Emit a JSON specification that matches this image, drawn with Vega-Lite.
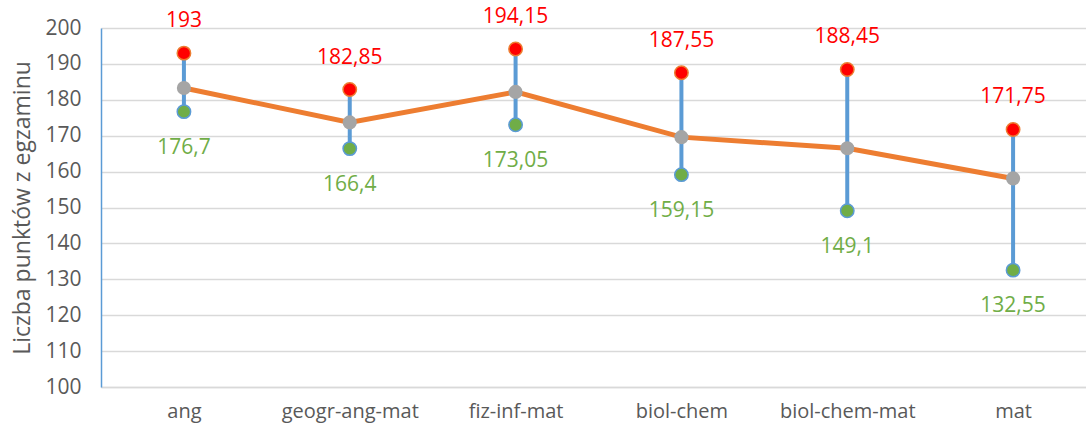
{
  "$schema": "https://vega.github.io/schema/vega-lite/v6.json",
  "autosize": "none",
  "width": 995,
  "height": 359,
  "padding": {"left": 101, "top": 28, "right": 0, "bottom": 45},
  "background": "white",
  "config": {
    "locale": {"number": {"decimal": ",", "thousands": " ", "grouping": [3], "currency": ["", " zł"]}},
    "view": {"stroke": null},
    "font": "Open Sans",
    "axis": {"labelFont": "Open Sans", "titleFont": "Open Sans"}
  },
  "data": {
    "values": [
      {"kierunek": "ang", "min": 176.7, "max": 193, "srednia": 183.3},
      {"kierunek": "geogr-ang-mat", "min": 166.4, "max": 182.85, "srednia": 173.7},
      {"kierunek": "fiz-inf-mat", "min": 173.05, "max": 194.15, "srednia": 182.2},
      {"kierunek": "biol-chem", "min": 159.15, "max": 187.55, "srednia": 169.6},
      {"kierunek": "biol-chem-mat", "min": 149.1, "max": 188.45, "srednia": 166.5},
      {"kierunek": "mat", "min": 132.55, "max": 171.75, "srednia": 158.1}
    ]
  },
  "resolve": {"axis": {"y": "independent"}},
  "encoding": {
    "x": {
      "field": "kierunek", "type": "nominal", "sort": null,
      "scale": {"type": "point", "padding": 0.5},
      "axis": {"title": null, "labelAngle": 0, "ticks": false, "domainColor": "#d9d9d9", "domainWidth": 1.5, "labelColor": "#595959", "labelFontSize": 20, "labelPadding": 14, "grid": false}
    }
  },
  "layer": [
    {
      "mark": {"type": "line", "color": "#ed7d31", "strokeWidth": 5},
      "encoding": {
        "y": {
          "field": "srednia", "type": "quantitative",
          "scale": {"domain": [100, 200], "nice": false, "zero": false},
          "axis": {
            "title": "Liczba punktów z egzaminu", "titleColor": "#595959", "titleFontSize": 23, "titleFontWeight": "normal",
            "titleAngle": -90, "titleX": -79, "titleY": 179.5, "titleAlign": "center", "titleBaseline": "middle",
            "values": [100, 110, 120, 130, 140, 150, 160, 170, 180, 190, 200],
            "labelOverlap": false,
            "labelColor": "#595959", "labelFontSize": 21, "labelPadding": 20, "ticks": false,
            "domainColor": "#5b9bd5", "domainWidth": 1.5,
            "gridColor": "#d9d9d9", "gridWidth": 1.5
          }
        }
      }
    },
    {
      "mark": {"type": "rule", "color": "#5b9bd5", "strokeWidth": 4},
      "encoding": {"y": {"field": "min", "type": "quantitative", "axis": null}, "y2": {"field": "max"}}
    },
    {
      "mark": {"type": "point", "filled": true, "color": "#a5a5a5", "size": 200, "opacity": 1},
      "encoding": {"y": {"field": "srednia", "type": "quantitative", "axis": null}}
    },
    {
      "mark": {"type": "point", "filled": true, "fill": "#ff0000", "stroke": "#ed7d31", "strokeWidth": 1.5, "size": 180, "opacity": 1},
      "encoding": {"y": {"field": "max", "type": "quantitative", "axis": null}}
    },
    {
      "mark": {"type": "point", "filled": true, "fill": "#70ad47", "stroke": "#5b9bd5", "strokeWidth": 1.5, "size": 180, "opacity": 1},
      "encoding": {"y": {"field": "min", "type": "quantitative", "axis": null}}
    },
    {
      "mark": {"type": "text", "color": "#ff0000", "fontSize": 21, "dy": -32, "baseline": "middle"},
      "encoding": {"y": {"field": "max", "type": "quantitative", "axis": null}, "text": {"field": "max", "type": "quantitative", "format": ".2~f"}}
    },
    {
      "mark": {"type": "text", "color": "#70ad47", "fontSize": 21, "dy": 36, "baseline": "middle"},
      "encoding": {"y": {"field": "min", "type": "quantitative", "axis": null}, "text": {"field": "min", "type": "quantitative", "format": ".2~f"}}
    }
  ]
}
